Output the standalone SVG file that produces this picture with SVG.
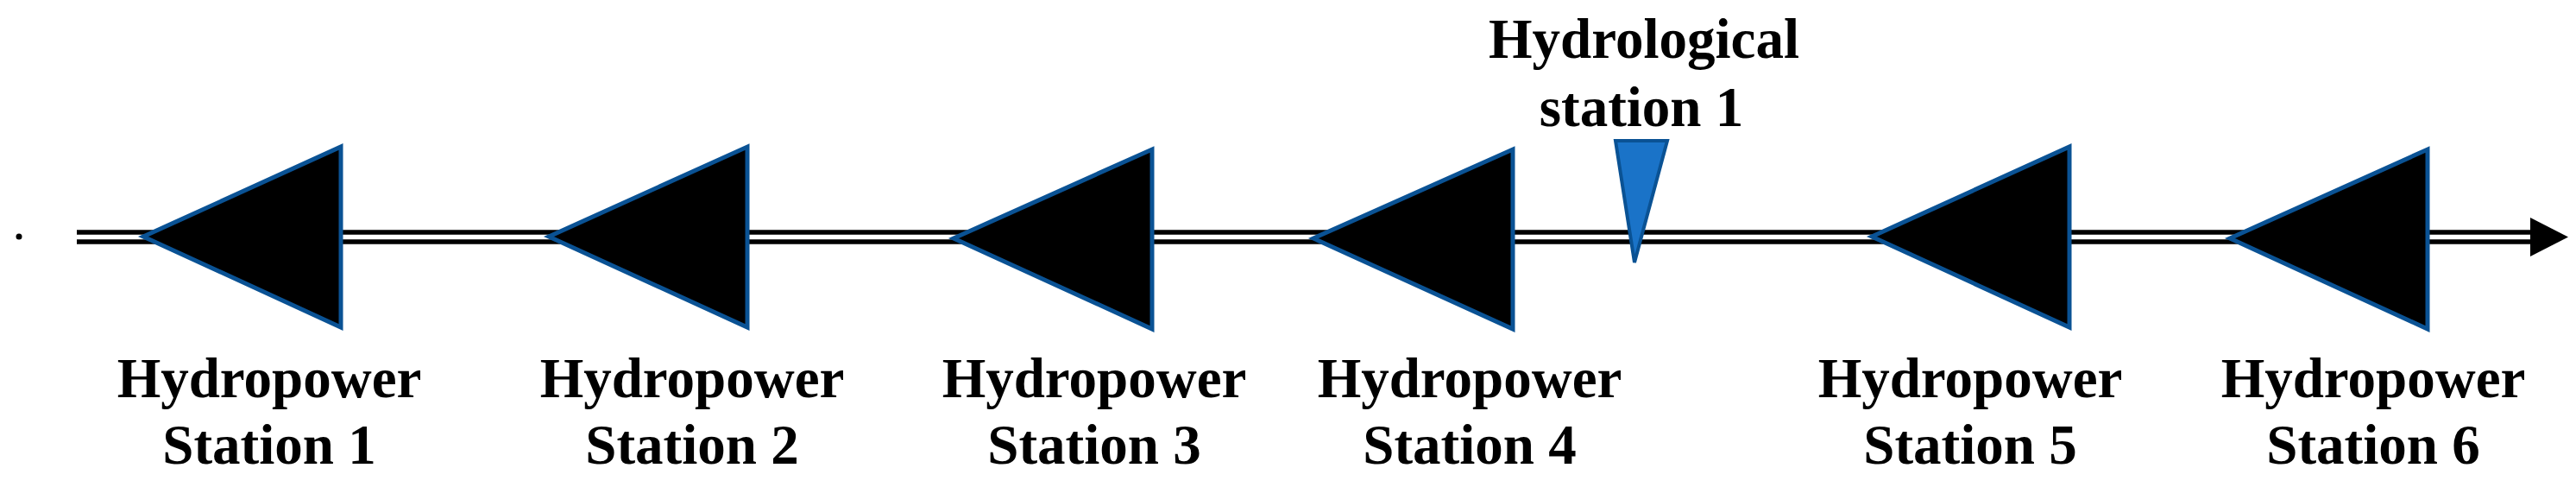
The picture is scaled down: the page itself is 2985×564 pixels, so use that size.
<svg xmlns="http://www.w3.org/2000/svg" width="2985" height="564" viewBox="0 0 2985 564">
<style>
.st{fill:#000;stroke:#0a5294;stroke-width:5;stroke-linejoin:miter}
.hy{fill:#1a73c8;stroke:#0a5294;stroke-width:4}
.ln{stroke:#000;stroke-width:5.5;fill:none}
text{font-family:"Liberation Serif","Times New Roman",serif;font-weight:bold;font-size:65px;text-anchor:middle;fill:#000}
</style>
<rect width="2985" height="564" fill="#fff"/>
<circle cx="22" cy="274" r="3.5" fill="#000"/>
<g id="connectors">
<line class="ln" x1="89" y1="269" x2="2934" y2="269"/>
<line class="ln" x1="89" y1="280" x2="2934" y2="280"/>
<polygon points="2932,252 2976,274.5 2932,297" fill="#000"/>
</g>
<g id="hs1"><polygon class="st" points="166,274 395,170 395,379"/><text x="312" y="460">Hydropower</text><text x="312" y="537">Station 1</text></g>
<g id="hs2"><polygon class="st" points="636,274 866,170 866,379"/><text x="802" y="460">Hydropower</text><text x="802" y="537">Station 2</text></g>
<g id="hs3"><polygon class="st" points="1105,276 1335,173 1335,381"/><text x="1268" y="460">Hydropower</text><text x="1268" y="537">Station 3</text></g>
<g id="hs4"><polygon class="st" points="1522,276 1753,173 1753,381"/><text x="1703" y="460">Hydropower</text><text x="1703" y="537">Station 4</text></g>
<g id="hs5"><polygon class="st" points="2169,274 2398,170 2398,379"/><text x="2283" y="460">Hydropower</text><text x="2283" y="537">Station 5</text></g>
<g id="hs6"><polygon class="st" points="2584,276 2813,173 2813,381"/><text x="2750" y="460">Hydropower</text><text x="2750" y="537">Station 6</text></g>
<g id="hydro1"><polygon class="hy" points="1872,163 1932,163 1894,304"/><text x="1905" y="67">Hydrological</text><text x="1902" y="146">station 1</text></g>
</svg>
